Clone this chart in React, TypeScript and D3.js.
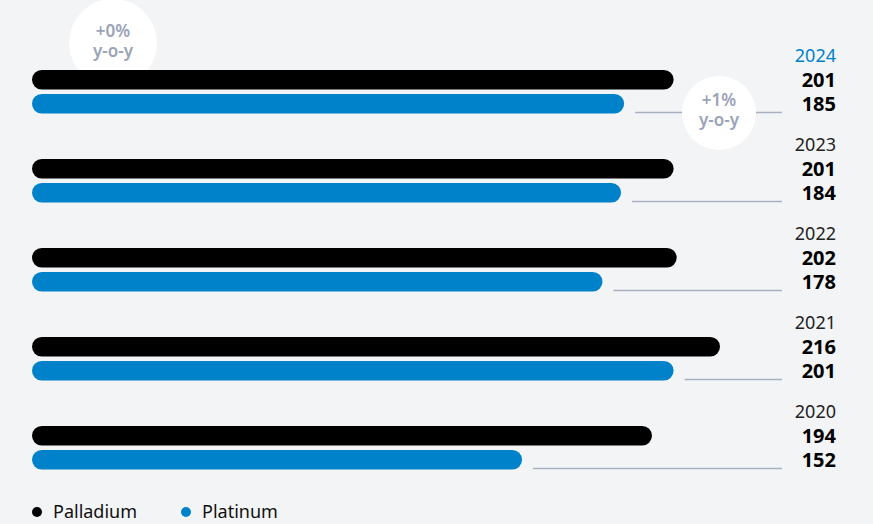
import React from "react";
import * as d3 from "d3";

const years = ["2024", "2023", "2022", "2021", "2020"];
const palladium = [201, 201, 202, 216, 194];
const platinum = [185, 184, 178, 201, 152];
const seriesNames = ["Palladium", "Platinum"];
const yoyLabels = [
  { pct: "+0%", series: 0 },
  { pct: "+1%", series: 1 },
];

const W = 873;
const H = 524;
const BG = "#f3f4f6";
const BLUE = "#0082ca";
const GREY = "#9aa3b8";
const FONT = "'Noto Sans', 'Open Sans', sans-serif";

export default function App() {
  const x = d3.scaleLinear().domain([0, 216]).range([52, 720]);
  const y = d3.scaleBand().domain(years).range([35, 480]).paddingInner(0);
  const barH = 19.5;
  const startX = 32;
  const rightX = 836;
  const lineEnd = 782;

  return (
    <div style={{ position: "fixed", left: 0, top: 0, width: W, height: H, overflow: "hidden" }}>
      <svg width={W} height={H} style={{ display: "block", background: BG }} fontFamily={FONT}>
        <rect width={W} height={H} fill={BG} />
        {/* +0% circle behind top palladium bar */}
        <circle cx={113} cy={43} r={44} fill="#fff" />
        <text x={113} y={37} textAnchor="middle" fill={GREY} fontSize={17} fontWeight={600}>
          {yoyLabels[0].pct}
        </text>
        <text x={113} y={57} textAnchor="middle" fill={GREY} fontSize={17} fontWeight={600}>
          y-o-y
        </text>
        {years.map((yr, i) => {
          const y0 = y(yr)!;
          const pY = y0 + 35;
          const tY = pY + barH + 4.5;
          const pEnd = x(palladium[i]);
          const tEnd = x(platinum[i]);
          return (
            <g key={yr}>
              <text x={rightX} y={y0 + 27} textAnchor="end" fontSize={18} fill={i === 0 ? BLUE : "#222"}>
                {yr}
              </text>
              <rect x={startX} y={pY} width={pEnd - startX} height={barH} rx={barH / 2} fill="#000" />
              <rect x={startX} y={tY} width={tEnd - startX} height={barH} rx={barH / 2} fill={BLUE} />
              <line x1={tEnd + 11} x2={lineEnd} y1={tY + barH - 1} y2={tY + barH - 1} stroke="#a9b0c2" strokeWidth={1.3} />
              <text x={rightX} y={pY + 17} textAnchor="end" fontSize={20} fontWeight={700} fill="#000">
                {palladium[i]}
              </text>
              <text x={rightX} y={tY + 17} textAnchor="end" fontSize={20} fontWeight={700} fill="#000">
                {platinum[i]}
              </text>
            </g>
          );
        })}
        {/* +1% circle */}
        <circle cx={719} cy={113} r={37} fill="#fff" />
        <text x={719} y={106} textAnchor="middle" fill={GREY} fontSize={17} fontWeight={600}>
          {yoyLabels[1].pct}
        </text>
        <text x={719} y={126} textAnchor="middle" fill={GREY} fontSize={17} fontWeight={600}>
          y-o-y
        </text>
        {/* legend */}
        {seriesNames.map((s, i) => {
          const lx = i === 0 ? 37 : 186;
          return (
            <g key={s}>
              <circle cx={lx} cy={512} r={5} fill={i === 0 ? "#000" : BLUE} />
              <text x={lx + 16} y={518} fontSize={18} fill="#111">
                {s}
              </text>
            </g>
          );
        })}
      </svg>
    </div>
  );
}
